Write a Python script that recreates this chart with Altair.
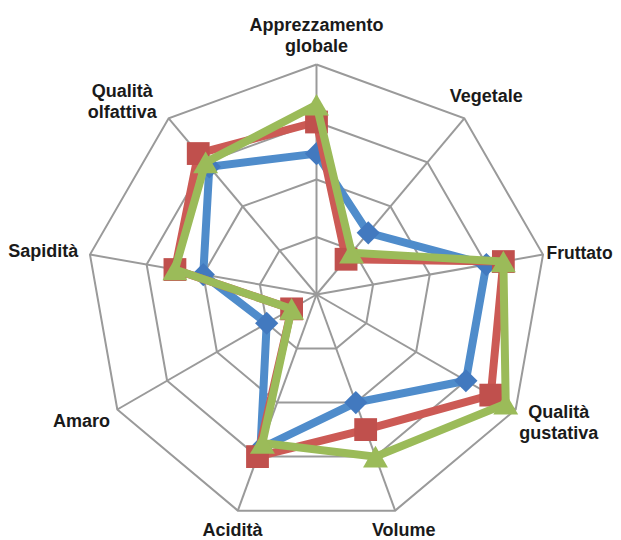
import altair as alt
import pandas as pd

# ---------------- data ----------------
categories = ["Apprezzamento globale", "Vegetale", "Fruttato", "Qualità gustativa",
              "Volume", "Acidità", "Amaro", "Sapidità", "Qualità olfattiva"]
series_names = ["Serie 1", "Serie 2", "Serie 3"]
blue_values = [2.45, 1.4, 3.0, 3.0, 2.0, 2.85, 1.0, 2.0, 2.9]
red_values = [3.0, 0.8, 3.3, 3.5, 2.5, 3.0, 0.5, 2.5, 3.2]
green_values = [3.3, 0.95, 3.3, 3.8, 3.0, 2.75, 0.5, 2.5, 3.0]
ring_levels = [1, 2, 3, 4]
max_value = 4

n = len(categories)

# ---------------- layout ----------------
W, H = 605, 532
cx, cy = 308.5, 286.5          # centre of the web inside the plot area (px)
px_per_unit = 57.5
x_dom = [-cx / px_per_unit, (W - cx) / px_per_unit]
y_dom = [-(H - cy) / px_per_unit, cy / px_per_unit]

xs = alt.Scale(domain=x_dom, nice=False, zero=False)
ys = alt.Scale(domain=y_dom, nice=False, zero=False)


def to_xy(chart):
    return chart.transform_calculate(
        ang="2*PI*datum.idx/%d" % n
    ).transform_calculate(
        px="datum.value*sin(datum.ang)",
        py="datum.value*cos(datum.ang)",
    )


# ring grid
ring_rows = []
for lvl in ring_levels:
    for k in range(n + 1):
        ring_rows.append({"ring": lvl, "idx": k % n, "ord": k, "value": lvl})
rings = to_xy(alt.Chart(pd.DataFrame(ring_rows))).mark_line(
    color="#9a9a9a", strokeWidth=2
).encode(
    x=alt.X("px:Q", scale=xs, axis=None),
    y=alt.Y("py:Q", scale=ys, axis=None),
    detail="ring:N",
    order="ord:Q",
)

# spokes
spoke_rows = []
for k in range(n):
    spoke_rows.append({"spoke": k, "idx": k, "ord": 0, "value": 0})
    spoke_rows.append({"spoke": k, "idx": k, "ord": 1, "value": max_value})
spokes = to_xy(alt.Chart(pd.DataFrame(spoke_rows))).mark_line(
    color="#9a9a9a", strokeWidth=2
).encode(
    x=alt.X("px:Q", scale=xs, axis=None),
    y=alt.Y("py:Q", scale=ys, axis=None),
    detail="spoke:N",
    order="ord:Q",
)


def series_layers(name, values, line_color, mark_color, shape, size):
    rows = []
    for k in range(n + 1):
        rows.append({"serie": name, "idx": k % n, "ord": k, "value": values[k % n],
                     "categoria": categories[k % n]})
    base = to_xy(alt.Chart(pd.DataFrame(rows)))
    line = base.mark_line(color=line_color, strokeWidth=8).encode(
        x=alt.X("px:Q", scale=xs, axis=None),
        y=alt.Y("py:Q", scale=ys, axis=None),
        order="ord:Q",
    )
    pts = base.transform_filter("datum.ord < %d" % n).mark_point(
        shape=shape, filled=True, size=size, color=mark_color, opacity=1
    ).encode(
        x=alt.X("px:Q", scale=xs, axis=None),
        y=alt.Y("py:Q", scale=ys, axis=None),
    )
    return [line, pts]


layers = [rings, spokes]
layers += series_layers(series_names[0], blue_values, "#4F8CCB", "#4279BF", "diamond", 540)
layers += series_layers(series_names[1], red_values, "#CC5A55", "#C0504D", "square", 520)
layers += series_layers(series_names[2], green_values, "#9BBB59", "#9BBB59", "triangle-up", 620)

# category labels
label_df = pd.DataFrame({
    "idx": list(range(n)),
    "value": [max_value] * n,
    "label": [c.replace(" ", "\n") if c.startswith(("Apprezz", "Qualità")) else c for c in categories],
})
label_style = {
    0: ("center", 0, -33.5, 18),
    1: ("center", 22, -16, 18),
    2: ("left", 3.5, 4.7, 17.5),
    3: ("center", 43, 8.8, 18),
    4: ("center", 8.6, 25.4, 18),
    5: ("center", -5.3, 25.4, 18),
    6: ("right", -7.3, 17.2, 18),
    7: ("right", -11.7, 2.1, 18),
    8: ("center", -46.5, -21.6, 18),
}
for k in range(n):
    al, dx, dy, fs = label_style[k]
    layers.append(
        to_xy(alt.Chart(label_df)).transform_filter("datum.idx == %d" % k).mark_text(
            font="Liberation Sans", fontWeight="bold", fontSize=fs, color="#1a1a1a",
            align=al, baseline="alphabetic", dx=dx, dy=dy, lineBreak="\n", lineHeight=21,
        ).encode(
            x=alt.X("px:Q", scale=xs, axis=None),
            y=alt.Y("py:Q", scale=ys, axis=None),
            text="label:N",
        )
    )

chart = alt.layer(*layers).properties(
    width=W, height=H, padding=0,
    autosize=alt.AutoSizeParams(type="none"),
    background="white",
).configure_view(stroke=None)

chart.save("out.html", embed_options={"renderer": "svg", "actions": False})
